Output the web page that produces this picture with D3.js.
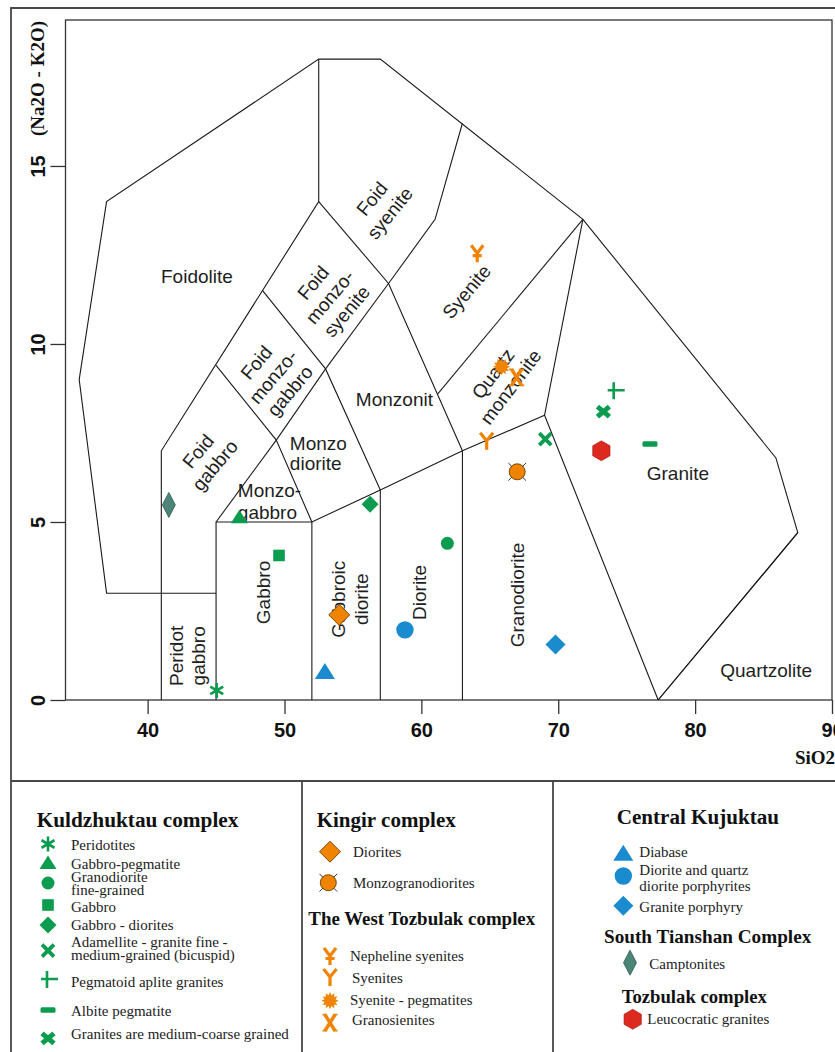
<!DOCTYPE html>
<html>
<head>
<meta charset="utf-8">
<script src="https://cdn.jsdelivr.net/npm/d3@7"></script>
<style>
  body { margin: 0; background: #fff; }
  svg { display: block; }
</style>
</head>
<body>
<script>
// TAS diagram for plutonic rocks (Middlemost 1994 fields) with sample groups.

const xTicks = [40, 50, 60, 70, 80, 90];
const yTicks = [0, 5, 10, 15];

// Field boundaries as [SiO2, alkali] polylines
const fieldBoundaries = [
  [[45, 3], [37, 3], [35, 9], [37, 14], [52.5, 18], [57, 18], [71.8, 13.5], [85.9, 6.8], [87.5, 4.7], [77.3, 0]],
  [[41, 0], [41, 7], [52.5, 14], [52.5, 18]],
  [[45, 0], [45, 5], [52, 5], [57, 5.9], [63, 7], [69, 8], [77.3, 0]],
  [[52, 0], [52, 5]],
  [[57, 0], [57, 5.9]],
  [[63, 0], [63, 7]],
  [[69, 8], [71.8, 13.5]],
  [[45, 5], [49.4, 7.3], [53, 9.3], [57.6, 11.7], [61, 13.5], [63, 16.2]],
  [[45, 9.4], [49.4, 7.3], [52, 5]],
  [[48.4, 11.5], [53, 9.3], [57, 5.9]],
  [[52.5, 14], [57.6, 11.7], [63, 7]],
  [[61.2, 8.6], [71.8, 13.5]],
  [[77.3, 0], [87.5, 4.7]]
];

// Field names, anchor point in data units, text angle
const fieldLabels = [
  { lines: ["Foidolite"], at: [43.6, 11.91], angle: 0 },
  { lines: ["Foid", "syenite"], at: [57.04, 13.88], angle: -51, lh: 23 },
  { lines: ["Foid", "monzo-", "syenite"], at: [53.31, 11.32], angle: -50, lh: 22 },
  { lines: ["Foid", "monzo-", "gabbro"], at: [49.17, 9.08], angle: -50, lh: 22 },
  { lines: ["Foid", "gabbro"], at: [44.3, 6.79], angle: -50, lh: 22 },
  { lines: ["Monzo", "diorite"], at: [50.39, 6.93], angle: 0, lh: 20, anchor: "start" },
  { lines: ["Monzo-", "gabbro"], at: [46.59, 5.58], angle: 0, lh: 22, anchor: "start" },
  { lines: ["Monzonit"], at: [58.03, 8.45], angle: 0 },
  { lines: ["Syenite"], at: [63.3, 11.47], angle: -50 },
  { lines: ["Quartz", "monzonite"], at: [65.88, 8.98], angle: -53, lh: 22 },
  { lines: ["Granite"], at: [78.74, 6.37], angle: 0 },
  { lines: ["Quartzolite"], at: [85.19, 0.84], angle: 0 },
  { lines: ["Gabbro"], at: [48.44, 3.02], angle: -90 },
  { lines: ["Gabbroic", "diorite"], at: [54.75, 2.83], angle: -90, lh: 22.7 },
  { lines: ["Diorite"], at: [59.82, 3.02], angle: -90 },
  { lines: ["Granodiorite"], at: [67.03, 2.95], angle: -90 },
  { lines: ["Peridot", "gabbro"], at: [42.9, 1.24], angle: -90, lh: 21.6 }
];

// Samples
const rockNames = [
  "Peridotites", "Gabbro-pegmatite", "Granodiorite\nfine-grained", "Gabbro", "Gabbro - diorites",
  "Adamellite - granite fine -\nmedium-grained (bicuspid)", "Pegmatoid aplite granites",
  "Albite pegmatite", "Granites are medium-coarse grained",
  "Diorites", "Monzogranodiorites",
  "Nepheline syenites", "Syenites", "Syenite - pegmatites", "Granosienites",
  "Diabase", "Diorite and quartz\ndiorite porphyrites", "Granite porphyry",
  "Camptonites", "Leucocratic granites"
];
const sio2 = [45.05, 46.7, 61.9, 49.6, 56.25, 69.05, 74.05, 76.7, 73.3, 54.0, 67.0, 64.08, 64.77, 65.86, 66.96, 52.95, 58.8, 69.8, 41.55, 73.15];
const alkali = [0.27, 5.13, 4.4, 4.06, 5.5, 7.33, 8.7, 7.19, 8.1, 2.39, 6.41, 12.55, 7.28, 9.36, 9.06, 0.8, 1.97, 1.56, 5.48, 7.0];

const complexTitles = ["Kuldzhuktau complex", "Kingir complex", "The West Tozbulak complex", "Central Kujuktau", "South Tianshan Complex", "Tozbulak complex"];

// ---- styles ----
const GREEN = "#0b9c50", ORANGE = "#f08400", BLUE = "#1b8bcf", TEAL = "#4b8578", RED = "#dc2a1f";
const markerShape = [
  "asterisk", "triangleG", "circleG", "squareG", "diamondG", "cross", "plus", "dash", "boldX",
  "diamondO", "circleX", "yBar", "y", "star", "xSerif",
  "triangleB", "circleB", "diamondB", "diamondT", "hexR"
];

const W = 835, H = 1052;
const svg = d3.select("body").append("svg").attr("width", W).attr("height", H);

const x = d3.scaleLinear().domain([34, 90]).range([65.5, 832]);
const y = d3.scaleLinear().domain([0, 19.1]).range([700, 20]);

const SANS = "'Liberation Sans', Arial, sans-serif";
const SERIF = "'Liberation Serif', 'Times New Roman', serif";

// ---- figure frame ----
const frame = svg.append("g").attr("fill", "none").attr("stroke", "#474747").attr("stroke-width", 1.8);
frame.append("path").attr("d", `M11,${H + 5}L11,8L${W + 5},8`);
frame.append("path").attr("d", `M11,781L${W + 5},781`);
frame.append("path").attr("d", `M302,781L302,${H + 5}M553,781L553,${H + 5}`);

// ---- plot box ----
svg.append("rect")
  .attr("x", x(34)).attr("y", y(19.1))
  .attr("width", x(90) - x(34)).attr("height", y(0) - y(19.1))
  .attr("fill", "none").attr("stroke", "#333").attr("stroke-width", 1.3);

// ---- axes ----
const gx = svg.append("g").attr("transform", `translate(0,${y(0)})`)
  .call(d3.axisBottom(x).tickValues(xTicks).tickSize(14).tickSizeOuter(0));
gx.select(".domain").remove();
gx.selectAll(".tick line").attr("stroke", "#333").attr("stroke-width", 1.3);
gx.selectAll(".tick text")
  .attr("y", 30).attr("dy", "0.35em")
  .attr("font-family", SANS).attr("font-weight", "bold").attr("font-size", 20).attr("fill", "#111");

const gy = svg.append("g").attr("transform", `translate(${x(34)},0)`)
  .call(d3.axisLeft(y).tickValues(yTicks).tickSize(15).tickSizeOuter(0));
gy.select(".domain").remove();
gy.selectAll(".tick line").attr("stroke", "#333").attr("stroke-width", 1.3);
gy.selectAll(".tick text")
  .attr("x", 0).attr("y", 0).attr("dy", "0.35em")
  .attr("text-anchor", "middle")
  .attr("transform", "translate(-28,0) rotate(-90)")
  .attr("font-family", SANS).attr("font-weight", "bold").attr("font-size", 20).attr("fill", "#111");

svg.append("text")
  .attr("transform", "translate(37,78.5) rotate(-90)")
  .attr("dy", "0.35em").attr("text-anchor", "middle")
  .attr("font-family", SERIF).attr("font-weight", "bold").attr("font-size", 19).attr("fill", "#111")
  .text("(Na2O - K2O)");

svg.append("text")
  .attr("x", 795).attr("y", 757).attr("dy", "0.35em")
  .attr("font-family", SERIF).attr("font-weight", "bold").attr("font-size", 19).attr("fill", "#111")
  .text("SiO2");

// ---- field boundaries ----
const line = d3.line().x(d => x(d[0])).y(d => y(d[1]));
svg.append("g").attr("fill", "none").attr("stroke", "#1a1a1a").attr("stroke-width", 1.1)
  .selectAll("path").data(fieldBoundaries).join("path").attr("d", line);

// ---- field names ----
const labels = svg.append("g").attr("font-family", SANS).attr("font-size", 19).attr("fill", "#1e1e1e");
fieldLabels.forEach(f => {
  const t = labels.append("text")
    .attr("transform", `translate(${x(f.at[0])},${y(f.at[1])}) rotate(${f.angle})`)
    .attr("text-anchor", f.anchor || "middle");
  const n = f.lines.length, lh = f.lh || 22;
  f.lines.forEach((s, i) => {
    t.append("tspan").attr("x", 0).attr("y", (i - (n - 1) / 2) * lh).attr("dy", "0.35em").text(s);
  });
});

// ---- marker drawing ----
function polyPts(pts) { return pts.map(p => p.join(",")).join(" "); }
function drawSymbol(g, shape, cx, cy) {
  const s = g.append("g").attr("transform", `translate(${cx},${cy})`);
  switch (shape) {
    case "asterisk":
      s.append("path").attr("d", "M0,-7.5L0,7.5M-6.5,-3.75L6.5,3.75M-6.5,3.75L6.5,-3.75")
        .attr("stroke", GREEN).attr("stroke-width", 2.6).attr("fill", "none"); break;
    case "triangleG":
      s.append("polygon").attr("points", "0,-7.5 8.5,6 -8.5,6").attr("fill", GREEN); break;
    case "circleG":
      s.append("circle").attr("r", 6.5).attr("fill", GREEN); break;
    case "squareG":
      s.append("rect").attr("x", -5.8).attr("y", -5.8).attr("width", 11.6).attr("height", 11.6).attr("fill", GREEN); break;
    case "diamondG":
      s.append("polygon").attr("points", "0,-8.5 8.5,0 0,8.5 -8.5,0").attr("fill", GREEN); break;
    case "cross":
      s.append("path").attr("d", "M-6,-6L6,6M-6,6L6,-6").attr("stroke", GREEN).attr("stroke-width", 3.8).attr("fill", "none"); break;
    case "plus":
      s.append("path").attr("d", "M-6,0L11,0M0,-8L0,9").attr("stroke", GREEN).attr("stroke-width", 2.6).attr("fill", "none"); break;
    case "dash":
      s.append("rect").attr("x", -7.5).attr("y", -2.8).attr("width", 15).attr("height", 5.6).attr("rx", 1.5).attr("fill", GREEN); break;
    case "boldX":
      s.append("path").attr("d", "M-6,-5L6,5M-6,5L6,-5").attr("stroke", GREEN).attr("stroke-width", 5).attr("fill", "none"); break;
    case "diamondO":
      s.append("polygon").attr("points", "0,-10.5 10.5,0 0,10.5 -10.5,0")
        .attr("fill", ORANGE).attr("stroke", "#6b3d00").attr("stroke-width", 0.9); break;
    case "circleX":
      s.append("circle").attr("r", 8).attr("fill", ORANGE).attr("stroke", "#6b3d00").attr("stroke-width", 0.9);
      s.append("path").attr("d", "M-8.8,-8.8L-5.4,-5.4M8.8,-8.8L5.4,-5.4M-8.8,8.8L-5.4,5.4M8.8,8.8L5.4,5.4")
        .attr("stroke", "#333").attr("stroke-width", 1).attr("fill", "none"); break;
    case "yBar":
      s.append("path").attr("d", "M-6,-8L0,0M6,-8L0,0M0,-1L0,9M-4.5,2.5L4.5,2.5")
        .attr("stroke", ORANGE).attr("stroke-width", 3.2).attr("fill", "none"); break;
    case "y":
      s.append("path").attr("d", "M-6.5,-8L0,0M6.5,-8L0,0M0,-1L0,9")
        .attr("stroke", ORANGE).attr("stroke-width", 3.2).attr("fill", "none"); break;
    case "star": {
      const pts = d3.range(24).map(i => {
        const a = i * Math.PI / 12 - Math.PI / 2, r = i % 2 ? 5.6 : 8.6;
        return [r * Math.cos(a), r * Math.sin(a)];
      });
      s.append("polygon").attr("points", polyPts(pts)).attr("fill", ORANGE); break;
    }
    case "xSerif":
      s.append("path").attr("d", "M-5,-8L5,8M5,-8L-5,8").attr("stroke", ORANGE).attr("stroke-width", 3.5).attr("fill", "none");
      s.append("path").attr("d", "M-7.5,-8L-3,-8M3,-8L7.5,-8M-7.5,8L-3,8M3,8L7.5,8").attr("stroke", ORANGE).attr("stroke-width", 1.8).attr("fill", "none"); break;
    case "triangleB":
      s.append("polygon").attr("points", "0,-8.5 10,7.5 -10,7.5").attr("fill", BLUE); break;
    case "circleB":
      s.append("circle").attr("r", 8.7).attr("fill", BLUE); break;
    case "diamondB":
      s.append("polygon").attr("points", "0,-10 10,0 0,10 -10,0").attr("fill", BLUE); break;
    case "diamondT":
      s.append("polygon").attr("points", "0,-12.5 6.5,0 0,12.5 -6.5,0")
        .attr("fill", TEAL).attr("stroke", "#2c5a50").attr("stroke-width", 0.8); break;
    case "hexR": {
      const pts = d3.range(6).map(i => {
        const a = i * Math.PI / 3 - Math.PI / 2;
        return [10 * Math.cos(a), 10 * Math.sin(a)];
      });
      s.append("polygon").attr("points", polyPts(pts)).attr("fill", RED).attr("stroke", "#a8180f").attr("stroke-width", 0.6); break;
    }
  }
}

// ---- sample points ----
const pts = svg.append("g");
rockNames.forEach((name, i) => drawSymbol(pts, markerShape[i], x(sio2[i]), y(alkali[i])));

// ---- legend ----
const leg = svg.append("g");
const titleLayout = [
  { x: 36.7, y: 820, size: 21.3 },
  { x: 316.7, y: 819.3, size: 21 },
  { x: 308.3, y: 918.3, size: 18.9 },
  { x: 616.7, y: 816.7, size: 21.1 },
  { x: 604, y: 936.7, size: 19.2 },
  { x: 621.7, y: 996.7, size: 18.7 }
];
complexTitles.forEach((t, i) => {
  const L = titleLayout[i];
  leg.append("text").attr("x", L.x).attr("y", L.y).attr("dy", "0.35em")
    .attr("font-family", SERIF).attr("font-weight", "bold").attr("font-size", L.size).attr("fill", "#111")
    .text(t);
});

// marker centre, text left edge, first text line centre, line step
const itemLayout = [
  { m: [48, 844], tx: 71, ty: 845 },
  { m: [48, 863], tx: 71, ty: 864 },
  { m: [48, 883], tx: 71, ty: 877, lh: 12.5 },
  { m: [48, 905], tx: 71, ty: 907 },
  { m: [48, 925], tx: 71, ty: 925 },
  { m: [48, 950.7], tx: 71, ty: 942, lh: 12.5 },
  { m: [47, 979], tx: 71, ty: 982 },
  { m: [48, 1010], tx: 71, ty: 1011 },
  { m: [48, 1038.3], tx: 71, ty: 1034 },
  { m: [330, 851.7], tx: 353, ty: 851.5 },
  { m: [328.3, 882.7], tx: 353, ty: 882.7 },
  { m: [330, 956], tx: 350, ty: 956 },
  { m: [330, 977], tx: 352, ty: 977.5 },
  { m: [330, 1000.7], tx: 350, ty: 999.5 },
  { m: [330, 1022.7], tx: 352, ty: 1019.3 },
  { m: [623.3, 853.3], tx: 639.3, ty: 851.5 },
  { m: [623.3, 876], tx: 639.3, ty: 869.5, lh: 16.5 },
  { m: [623.3, 905.8], tx: 639.3, ty: 906.7 },
  { m: [630, 962.7], tx: 649.3, ty: 964 },
  { m: [632.7, 1019.3], tx: 647.3, ty: 1019 }
];
rockNames.forEach((name, i) => {
  const L = itemLayout[i];
  drawSymbol(leg, markerShape[i], L.m[0], L.m[1]);
  const t = leg.append("text").attr("font-family", SERIF).attr("font-size", 15).attr("fill", "#222");
  name.split("\n").forEach((s, k) => {
    t.append("tspan").attr("x", L.tx).attr("y", L.ty + k * (L.lh || 14)).attr("dy", "0.35em").text(s);
  });
});
</script>
</body>
</html>
